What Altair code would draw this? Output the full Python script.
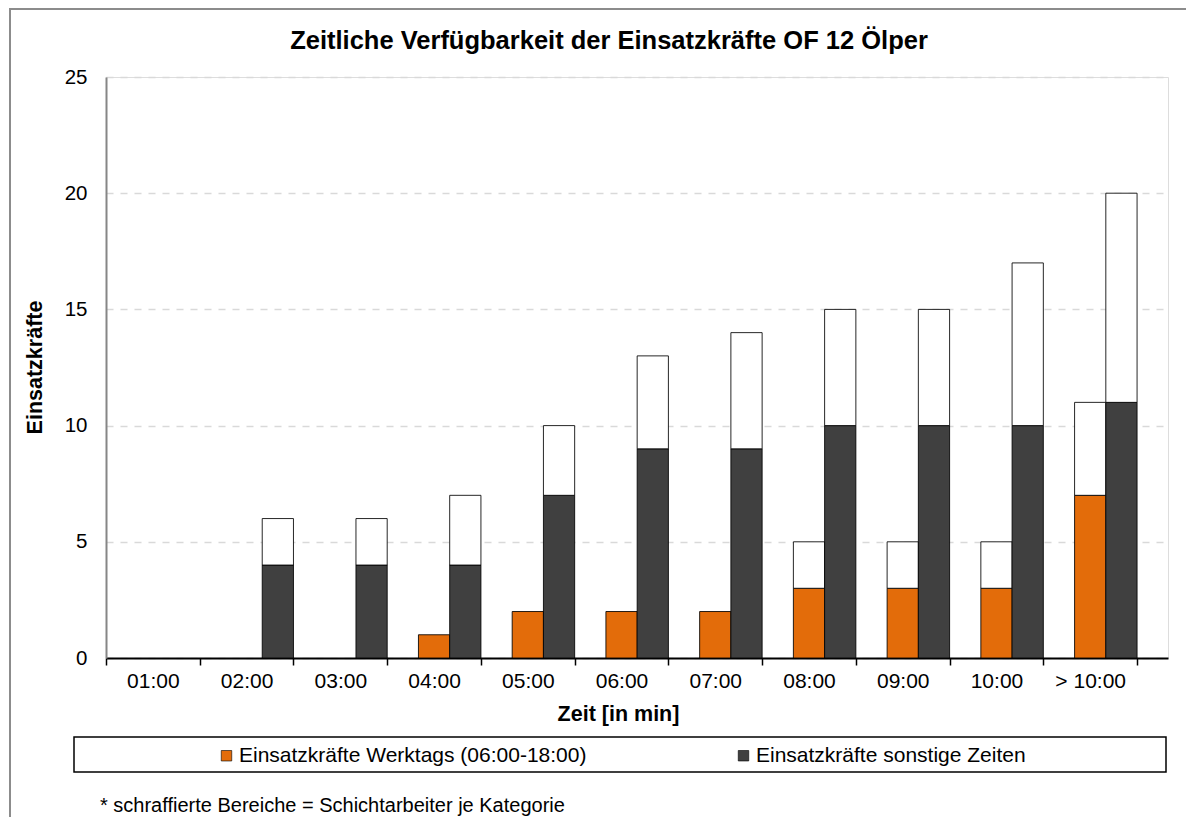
import altair as alt
import pandas as pd

categories = ["01:00", "02:00", "03:00", "04:00", "05:00", "06:00",
              "07:00", "08:00", "09:00", "10:00", "> 10:00"]
werktags = [0, 0, 0, 1, 2, 2, 2, 3, 3, 3, 7]
werktags_schicht = [0, 0, 0, 0, 0, 0, 0, 2, 2, 2, 4]
sonstige = [0, 4, 4, 4, 7, 9, 9, 10, 10, 10, 11]
sonstige_schicht = [0, 2, 2, 3, 3, 4, 5, 5, 5, 7, 9]

LBL_W = "Einsatzkräfte Werktags (06:00-18:00)"
LBL_S = "Einsatzkräfte sonstige Zeiten"
LBL_X = "Schichtarbeiter"
TITLE = "Zeitliche Verfügbarkeit der Einsatzkräfte OF 12 Ölper"
NOTE = "* schraffierte Bereiche = Schichtarbeiter je Kategorie"
FONT = "Liberation Sans"

rows = []
for i, c in enumerate(categories):
    for grp, base, extra, lbl in [("W", werktags[i], werktags_schicht[i], LBL_W),
                                  ("S", sonstige[i], sonstige_schicht[i], LBL_S)]:
        if base:
            rows.append(dict(zeit=c, grp=grp, kind=lbl, ord=0, n=base))
        if extra:
            rows.append(dict(zeit=c, grp=grp, kind=LBL_X, ord=1, n=extra))
df = pd.DataFrame(rows)

W, H = 1062, 581

bars = alt.Chart(df).mark_bar(stroke="#000000", strokeWidth=1, strokeOpacity=0.85).encode(
    x=alt.X("zeit:N", sort=categories,
            scale=alt.Scale(domain=categories, paddingInner=0, paddingOuter=0.165, align=0),
            axis=alt.Axis(title="Zeit [in min]", labelAngle=0, tickBand="extent",
                          labelFont=FONT, labelFontSize=21, labelColor="#000",
                          labelPadding=5, tickSize=7, tickColor="#000", tickWidth=1.5,
                          domainColor="#000", domainWidth=2,
                          titleFont=FONT, titleFontSize=21.5, titleFontWeight="bold",
                          titleColor="#000", titleX=512, titleY=56,
                          titleBaseline="middle", titleAlign="center")),
    xOffset=alt.XOffset("grp:N", scale=alt.Scale(domain=["gap", "W", "S"],
                                                  paddingInner=0, paddingOuter=0)),
    y=alt.Y("n:Q", stack="zero", scale=alt.Scale(domain=[0, 25], nice=False),
            axis=alt.Axis(title="Einsatzkräfte", values=[0, 5, 10, 15, 20, 25],
                          ticks=False, labelPadding=19,
                          labelFont=FONT, labelFontSize=20.5, labelColor="#000",
                          domainColor="#868686", domainWidth=2,
                          grid=True, gridColor="#D9D9D9", gridWidth=1.5, gridDash=[7, 7],
                          titleFont=FONT, titleFontSize=21.5, titleFontWeight="bold",
                          titleColor="#000", titleX=-71, titleY=290, titleAngle=-90,
                          titleBaseline="middle", titleAlign="center")),
    color=alt.Color("kind:N",
                    scale=alt.Scale(domain=[LBL_W, LBL_S, LBL_X],
                                    range=["#E36C0A", "#404040", "#FFFFFF"]),
                    legend=alt.Legend(values=[LBL_W, LBL_S], title=None, orient="none",
                                      legendX=110, legendY=668, direction="horizontal",
                                      symbolType="square", symbolSize=110,
                                      symbolStrokeColor="#000", symbolStrokeWidth=0.6,
                                      symbolOpacity=1, labelLimit=0,
                                      labelFont=FONT, labelFontSize=21, labelColor="#000",
                                      labelOffset=2, columnPadding=146, padding=0)),
    order=alt.Order("ord:Q"),
)

legend_box = alt.Chart(alt.Data(values=[{"a": 1}])).mark_rect(
    fillOpacity=0, stroke="#000", strokeWidth=1.5).encode(
    x=alt.value(-32), x2=alt.value(1060), y=alt.value(660), y2=alt.value(695))

outer_frame = alt.Chart(alt.Data(values=[{"a": 1}])).mark_rect(
    fillOpacity=0, stroke="#8C8C8C", strokeWidth=2).encode(
    x=alt.value(-96), x2=alt.value(1200), y=alt.value(-68), y2=alt.value(900))

note = alt.Chart(alt.Data(values=[{"t": NOTE}])).mark_text(
    font=FONT, fontSize=20, color="#000", align="left", baseline="middle").encode(
    x=alt.value(-6), y=alt.value(729), text="t:N")

chart = alt.layer(outer_frame, bars, legend_box, note).properties(
    width=W, height=H,
    title=alt.TitleParams(TITLE, font=FONT, fontSize=25.5, fontWeight="bold", color="#000",
                          anchor="middle", frame="group", dx=-28, offset=-46),
    autosize=alt.AutoSizeParams(type="none"),
    padding={"left": 98, "top": 69, "right": 18, "bottom": 159},
).configure_view(stroke="#000", strokeWidth=2).configure(background="white")

chart.save("out.html", embed_options={"renderer": "svg", "actions": False})
